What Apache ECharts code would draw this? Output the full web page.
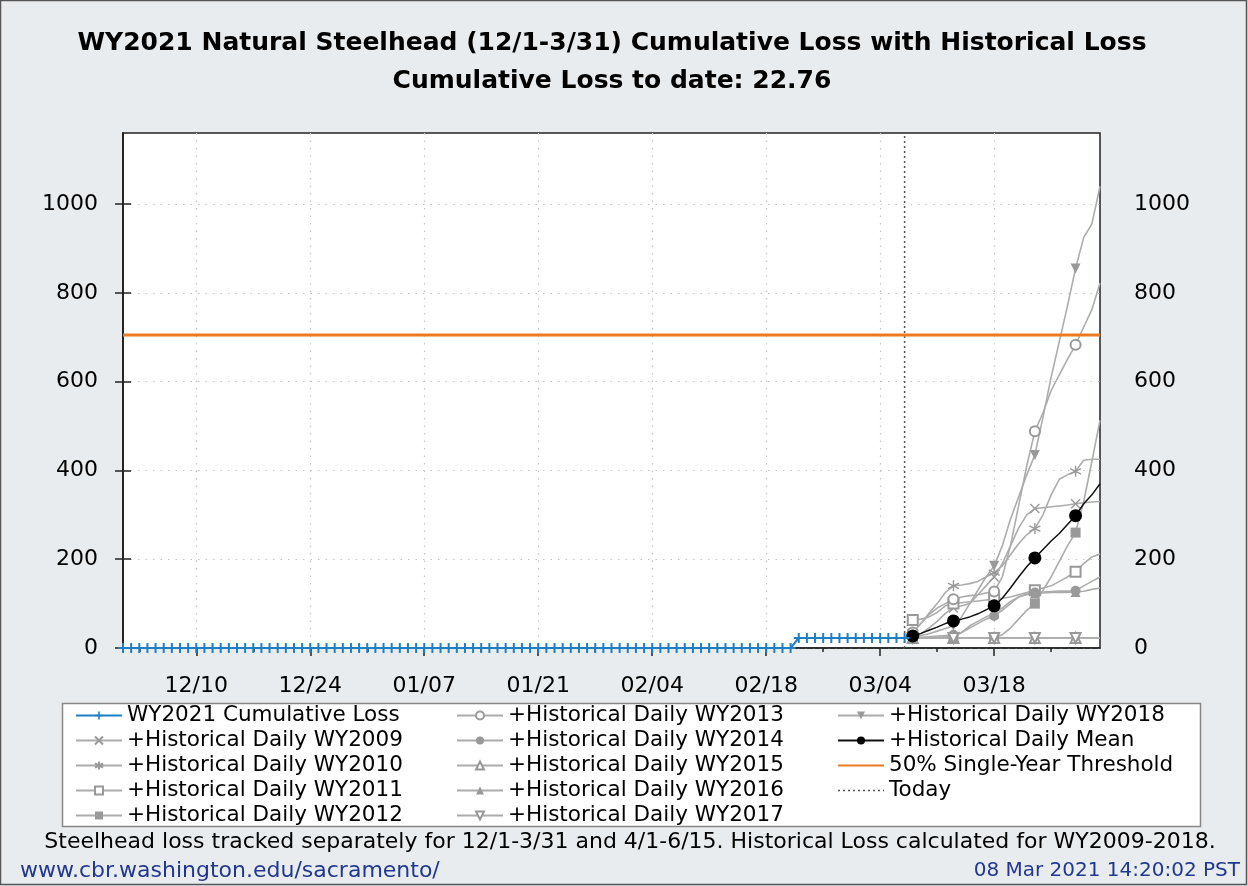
<!DOCTYPE html>
<html><head><meta charset="utf-8">
<script src="https://cdn.jsdelivr.net/npm/echarts@6/dist/echarts.min.js"></script>
<style>html,body{margin:0;padding:0;background:#e8ecef}#c{width:1248px;height:886px}</style>
</head><body><div id="c"></div>
<script>
// ---- data ----
const xTickDays = [9, 23, 37, 51, 65, 79, 93, 107];
const xTickLabels = ['12/10', '12/24', '01/07', '01/21', '02/04', '02/18', '03/04', '03/18'];
const xMinorDays = [2, 16, 30, 44, 58, 72, 86, 100, 114];
const yTicks = [0, 200, 400, 600, 800, 1000];
const todayDay = 96;
const thresholdValue = 705;

const wy2021Days = [0,1,2,3,4,5,6,7,8,9,10,11,12,13,14,15,16,17,18,19,20,21,22,23,24,25,26,27,28,29,30,31,32,33,34,35,36,37,38,39,40,41,42,43,44,45,46,47,48,49,50,51,52,53,54,55,56,57,58,59,60,61,62,63,64,65,66,67,68,69,70,71,72,73,74,75,76,77,78,79,80,81,82,83,84,85,86,87,88,89,90,91,92,93,94,95,96];
const wy2021Loss = [0,0,0,0,0,0,0,0,0,0,0,0,0,0,0,0,0,0,0,0,0,0,0,0,0,0,0,0,0,0,0,0,0,0,0,0,0,0,0,0,0,0,0,0,0,0,0,0,0,0,0,0,0,0,0,0,0,0,0,0,0,0,0,0,0,0,0,0,0,0,0,0,0,0,0,0,0,0,0,0,0,0,0,22.76,22.76,22.76,22.76,22.76,22.76,22.76,22.76,22.76,22.76,22.76,22.76,22.76,22.76];

const histDays = [97,98,99,100,101,102,103,104,105,106,107,108,109,110,111,112,113,114,115,116,117,118,119,120];
const wy2009 = [26,32,45,60,78,90,95,100,120,140,160,190,230,270,300,314,316,318,320,322,325,327,329,330];
const wy2010 = [35,55,78,100,125,140,142,145,150,160,170,185,210,235,255,269,300,345,380,390,398,423,425,425];
const wy2011 = [63,65,70,80,95,100,102,104,106,108,110,112,115,120,125,130,135,140,150,160,172,190,205,212];
const wy2012 = [23,23,23,23,23,23,23,23,23,23,23,30,45,65,85,100,130,160,195,230,260,330,420,513];
const wy2013 = [35,55,75,90,100,110,115,118,120,124,127,160,230,320,410,488,530,580,615,650,683,723,762,822];
const wy2014 = [23,24,25,27,28,30,35,45,55,65,72,85,100,115,122,125,126,127,128,128,129,140,150,160];
const wy2015 = [22.76,22.76,22.76,22.76,22.76,22.76,22.76,22.76,22.76,22.76,22.76,22.76,22.76,22.76,22.76,22.76,22.76,22.76,22.76,22.76,22.76,22.76,22.76,22.76];
const wy2016 = [23,23,24,24,25,25,35,50,60,70,78,90,105,115,120,123,124,125,125,125,126,128,132,135];
const wy2017 = [22.76,22.76,22.76,22.76,22.76,22.76,22.76,22.76,22.76,22.76,22.76,22.76,22.76,22.76,22.76,22.76,22.76,22.76,22.76,22.76,22.76,22.76,22.76,22.76];
const wy2018 = [25,28,32,38,44,50,70,100,130,160,185,230,290,340,390,435,520,610,690,770,855,925,955,1040];
const histMean = [27,33,40,47,55,61,65,70,77,86,95,112,135,160,183,203,222,241,258,278,298,325,345,370];

// ---- chart ----
const GRAY_LINE = '#acacac';
const GRAY_MARK = '#999999';
const FONT = '"DejaVu Sans", sans-serif';
const plusPath = 'path://M4,0H6V4H10V6H6V10H4V6H0V4H4Z';
const xPath = 'path://M0,0L10,10M10,0L0,10';
const starPath = 'path://M5,0L5,10M0.7,2.5L9.3,7.5M9.3,2.5L0.7,7.5';

function pairs(days, vals) { return days.map((d, i) => [d, vals[i]]); }

function hist(name, vals, symbol, opts) {
  opts = opts || {};
  return {
    name: name, type: 'line', animation: false, z: 2,
    data: histDays.map((d, i) => ({ value: [d, vals[i]], symbol: i % 5 === 0 ? symbol : 'none' })),
    symbol: symbol, showAllSymbol: true, symbolSize: opts.size || 10,
    symbolRotate: opts.rotate || 0,
    lineStyle: { color: GRAY_LINE, width: 1.6 },
    itemStyle: opts.stroke ? { color: 'rgba(0,0,0,0)', borderColor: GRAY_MARK, borderWidth: 1.4 } : { color: GRAY_MARK },
    emphasis: { disabled: true }
  };
}

const series = [
  hist('+Historical Daily WY2009', wy2009, xPath, { stroke: true, size: 9 }),
  hist('+Historical Daily WY2010', wy2010, starPath, { stroke: true, size: 11 }),
  hist('+Historical Daily WY2011', wy2011, 'emptyRect'),
  hist('+Historical Daily WY2012', wy2012, 'rect'),
  hist('+Historical Daily WY2013', wy2013, 'emptyCircle'),
  hist('+Historical Daily WY2014', wy2014, 'circle'),
  hist('+Historical Daily WY2015', wy2015, 'emptyTriangle'),
  hist('+Historical Daily WY2016', wy2016, 'triangle'),
  hist('+Historical Daily WY2017', wy2017, 'emptyTriangle', { rotate: 180 }),
  hist('+Historical Daily WY2018', wy2018, 'triangle', { rotate: 180 }),
  {
    name: '+Historical Daily Mean', type: 'line', animation: false, z: 3,
    data: histDays.map((d, i) => ({ value: [d, histMean[i]], symbol: i % 5 === 0 ? 'circle' : 'none' })),
    symbol: 'circle', showAllSymbol: true, symbolSize: 13,
    lineStyle: { color: '#111', width: 1.5 }, itemStyle: { color: '#000' },
    emphasis: { disabled: true }
  },
  {
    name: 'Today', type: 'line', animation: false, z: 3, symbol: 'none',
    data: [[todayDay, 0], [todayDay, 1160]],
    lineStyle: { color: '#555', width: 1.5, type: [2, 3] },
    emphasis: { disabled: true }
  },
  {
    name: '50% Single-Year Threshold', type: 'line', animation: false, z: 4, symbol: 'none',
    data: [[0, thresholdValue], [120, thresholdValue]],
    lineStyle: { color: '#ec7a22', width: 3 }, itemStyle: { color: '#ec7a22' },
    emphasis: { disabled: true }
  },
  {
    name: 'WY2021 Cumulative Loss', type: 'line', animation: false, z: 5,
    data: pairs(wy2021Days, wy2021Loss),
    symbol: plusPath, showAllSymbol: true, symbolSize: 10,
    lineStyle: { color: '#1f7fc4', width: 2 }, itemStyle: { color: '#1f7fc4' },
    emphasis: { disabled: true }
  }
];

const legendBase = {
  orient: 'vertical', top: 698, itemWidth: 46, itemHeight: 10, itemGap: 0,
  selectedMode: false,
  textStyle: { fontFamily: FONT, fontSize: 21.5, color: '#000', lineHeight: 25 }
};

const option = {
  backgroundColor: '#e8ecef',
  animation: false,
  grid: { left: 123, right: 148, top: 133, bottom: 238, show: true, backgroundColor: '#fff', borderColor: '#222', borderWidth: 1.5 },
  xAxis: [{
    type: 'value', min: 0, max: 120, position: 'bottom',
    axisLine: { show: true, lineStyle: { color: '#222', width: 1.5 } },
    axisTick: { show: true, customValues: xTickDays, length: 8, lineStyle: { color: '#222', width: 1.5 } },
    axisLabel: { customValues: xTickDays, formatter: v => xTickLabels[xTickDays.indexOf(v)], fontFamily: FONT, fontSize: 22, color: '#000', margin: 27 },
    splitLine: { show: true, lineStyle: { color: '#c4c4c4', width: 1.2, type: [1.5, 6] } }
  }, {
    type: 'value', min: 0, max: 120, position: 'bottom', gridIndex: 0,
    axisLine: { show: false },
    axisTick: { show: true, customValues: xMinorDays, length: 4, lineStyle: { color: '#222', width: 1.5 } },
    axisLabel: { show: false }, splitLine: { show: false }
  }],
  yAxis: [{
    type: 'value', min: 0, max: 1160, position: 'left',
    axisLine: { show: true, lineStyle: { color: '#222', width: 1.5 } },
    axisTick: { show: true, customValues: yTicks, length: 8, lineStyle: { color: '#222', width: 1.5 } },
    axisLabel: { customValues: yTicks, formatter: v => String(v), fontFamily: FONT, fontSize: 22, color: '#000', margin: 25 },
    splitLine: { show: true, lineStyle: { color: '#c4c4c4', width: 1.2, type: [1.5, 6] } }
  }, {
    type: 'value', min: 0, max: 1160, position: 'right',
    axisLine: { show: true, lineStyle: { color: '#222', width: 1.5 } },
    axisTick: { show: true, customValues: yTicks, length: 8, lineStyle: { color: '#222', width: 1.5 } },
    axisLabel: { customValues: yTicks, formatter: v => String(v), fontFamily: FONT, fontSize: 22, color: '#000', margin: 34 },
    splitLine: { show: false }
  }],
  legend: [
    Object.assign({}, legendBase, { left: 70, data: ['WY2021 Cumulative Loss', '+Historical Daily WY2009', '+Historical Daily WY2010', '+Historical Daily WY2011', '+Historical Daily WY2012'] }),
    Object.assign({}, legendBase, { left: 451, data: ['+Historical Daily WY2013', '+Historical Daily WY2014', '+Historical Daily WY2015', '+Historical Daily WY2016', '+Historical Daily WY2017'] }),
    Object.assign({}, legendBase, { left: 832, data: ['+Historical Daily WY2018', '+Historical Daily Mean',
      { name: '50% Single-Year Threshold', itemStyle: { opacity: 0 } },
      { name: 'Today', itemStyle: { opacity: 0 }, lineStyle: { type: [2, 3], color: '#555', width: 1.5 } }] })
  ],
  graphic: [
    { type: 'rect', z: -1, shape: { x: 0.5, y: 0.5, width: 1246, height: 884 }, style: { fill: 'none', stroke: '#555', lineWidth: 1.5 } },
    { type: 'rect', z: 0, shape: { x: 62.5, y: 703.5, width: 1138, height: 123 }, style: { fill: '#fff', stroke: '#888', lineWidth: 1.5 } },
    { type: 'text', x: 612, y: 43, style: { text: 'WY2021 Natural Steelhead (12/1-3/31) Cumulative Loss with Historical Loss', font: 'bold 25px ' + FONT, fill: '#000', align: 'center', verticalAlign: 'middle' } },
    { type: 'text', x: 612, y: 81, style: { text: 'Cumulative Loss to date: 22.76', font: 'bold 25px ' + FONT, fill: '#000', align: 'center', verticalAlign: 'middle' } },
    { type: 'text', x: 630, y: 842, style: { text: 'Steelhead loss tracked separately for 12/1-3/31 and 4/1-6/15. Historical Loss calculated for WY2009-2018.', font: '22px ' + FONT, fill: '#000', align: 'center', verticalAlign: 'middle' } },
    { type: 'text', x: 20, y: 871, style: { text: 'www.cbr.washington.edu/sacramento/', font: '22px ' + FONT, fill: '#22378f', align: 'left', verticalAlign: 'middle' } },
    { type: 'text', x: 1240, y: 871, style: { text: '08 Mar 2021 14:20:02 PST', font: '20px ' + FONT, fill: '#22378f', align: 'right', verticalAlign: 'middle' } }
  ],
  series: series
};

const chart = echarts.init(document.getElementById('c'));
chart.setOption(option);
</script>
</body></html>
